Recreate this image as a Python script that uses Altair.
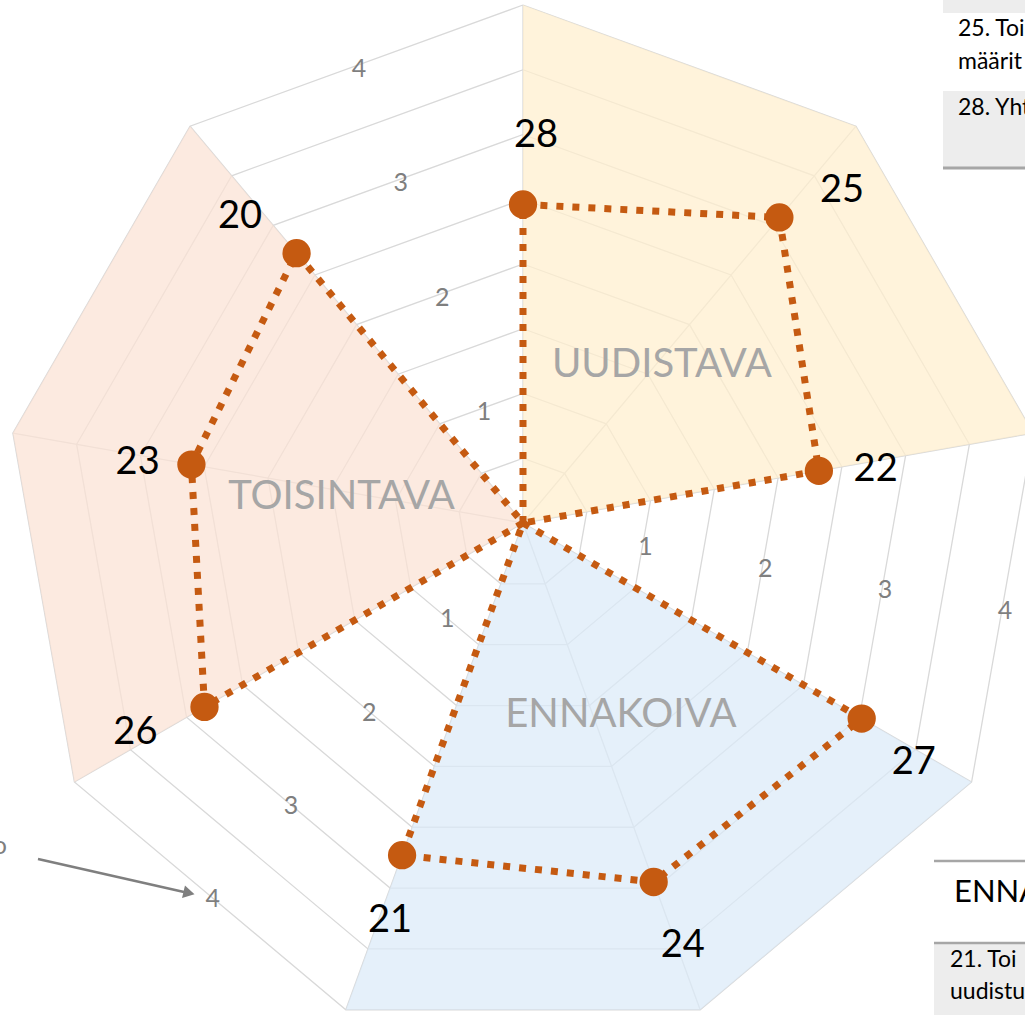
import altair as alt
import pandas as pd

# ---------------- data ----------------
axis_names = ["28", "25", "22", "27", "24", "21", "26", "23", "20"]   # clockwise from top
scores = [2.46, 3.08, 2.32, 3.02, 2.95, 2.73, 2.84, 2.60, 2.72]
group_names = ["UUDISTAVA", "ENNAKOIVA", "TOISINTAVA"]
group_of_axis = [0, 0, 0, 1, 1, 1, 2, 2, 2]
ring_levels = [0.5, 1, 1.5, 2, 2.5, 3, 3.5, 4]
tick_values = [1, 2, 3, 4]
max_value = 4

# ---------------- layout / style ----------------
N = len(axis_names)
CX, CY, UNIT = 523, 523, 129.5           # centre pixel, pixels per unit
W, H = 1025, 1015
xs = alt.Scale(domain=[-CX / UNIT, (W - CX) / UNIT], nice=False, zero=False)
ys = alt.Scale(domain=[(CY - H) / UNIT, CY / UNIT], nice=False, zero=False)
tick_angles = [340, 100, 220]
group_fill = {"UUDISTAVA": "#FFEFCD", "ENNAKOIVA": "#DBEAF8", "TOISINTAVA": "#FBE2D4"}
group_label_polar = {"UUDISTAVA": (41.3, 1.625), "ENNAKOIVA": (153, 1.665), "TOISINTAVA": (278, 1.415)}
# pixel nudges of the value-name labels (screen dx, dy)
label_nudge = [(13, -4), (21, 23), (-7, 10), (-4, 12), (7, 3), (10, 5), (-13, -6), (10, 10), (-15, 13)]
LINE = "#C55A11"
GRID = "#D9D9D9"
FONT = "Lato"


def with_xy(ch, r_expr="datum.r", i_expr="datum.i"):
    return ch.transform_calculate(
        x=f"({r_expr})*sin(({i_expr})*2*PI/{N})",
        y=f"({r_expr})*cos(({i_expr})*2*PI/{N})",
    )


X = alt.X("x:Q", scale=xs, axis=None)
Y = alt.Y("y:Q", scale=ys, axis=None)

# grid rings
ring_rows = []
for lv in ring_levels:
    for k in range(N + 1):
        ring_rows.append({"lv": lv, "k": k, "r": lv, "i": k % N})
rings = with_xy(alt.Chart(pd.DataFrame(ring_rows)).mark_line(color=GRID, strokeWidth=1.3)).encode(
    x=X, y=Y, detail="lv:N", order="k:Q")

spoke_rows = []
for i in range(N):
    spoke_rows += [{"i": i, "k": 0, "r": 0}, {"i": i, "k": 1, "r": max_value}]
spokes = with_xy(alt.Chart(pd.DataFrame(spoke_rows)).mark_line(color=GRID, strokeWidth=1.3)).encode(
    x=X, y=Y, detail="i:N", order="k:Q")

# group sector fills
fills = []
for g, name in enumerate(group_names):
    idx = [i for i in range(N) if group_of_axis[i] == g]
    rows = [{"k": 0, "r": 0, "i": idx[0]}]
    rows += [{"k": n + 1, "r": max_value, "i": i} for n, i in enumerate(idx)]
    rows += [{"k": len(idx) + 1, "r": 0, "i": idx[-1]}]
    fills.append(with_xy(alt.Chart(pd.DataFrame(rows)).mark_line(
        fill=group_fill[name], fillOpacity=0.72, strokeOpacity=0, strokeWidth=0)).encode(
        x=X, y=Y, order="k:Q"))

# axis tick labels
tick_rows = [{"a": a, "t": t} for a in tick_angles for t in tick_values]
ticks = alt.Chart(pd.DataFrame(tick_rows)).transform_calculate(
    x=f"datum.t*cos(PI/{N})*sin(datum.a*PI/180) + 0.02",
    y=f"datum.t*cos(PI/{N})*cos(datum.a*PI/180) - 0.025",
    lab="'' + datum.t",
).mark_text(font=FONT, fontSize=25, color="#7F7F7F", baseline="middle", align="center").encode(
    x=X, y=Y, text="lab:N")

# group labels
gl_rows = [{"name": n, "a": group_label_polar[n][0], "r": group_label_polar[n][1]} for n in group_names]
glabels = alt.Chart(pd.DataFrame(gl_rows)).transform_calculate(
    x="datum.r*sin(datum.a*PI/180)", y="datum.r*cos(datum.a*PI/180)"
).mark_text(font=FONT, fontSize=40, color="#A6A6A6", baseline="middle", align="center").encode(
    x=X, y=Y, text="name:N")

# data lines (each group runs through the centre, as in the radar source)
line_rows = []
for g, name in enumerate(group_names):
    idx = [i for i in range(N) if group_of_axis[i] == g]
    line_rows.append({"g": name, "k": 0, "r": 0, "i": idx[0]})
    for n, i in enumerate(idx):
        line_rows.append({"g": name, "k": n + 1, "r": scores[i], "i": i})
    line_rows.append({"g": name, "k": len(idx) + 1, "r": 0, "i": idx[-1]})
lines = with_xy(alt.Chart(pd.DataFrame(line_rows)).mark_line(
    color=LINE, strokeWidth=7, strokeDash=[7, 9], strokeCap="butt")).encode(
    x=X, y=Y, detail="g:N", order="k:Q")

pt_df = pd.DataFrame({"name": axis_names, "r": scores, "i": list(range(N)),
                      "nx": [n[0] for n in label_nudge], "ny": [n[1] for n in label_nudge]})
points = with_xy(alt.Chart(pt_df).mark_circle(size=800, color=LINE, opacity=1)).encode(x=X, y=Y)
plabels = alt.Chart(pt_df).transform_calculate(
    x=f"(datum.r + 0.5)*sin(datum.i*2*PI/{N}) + datum.nx/{UNIT}",
    y=f"(datum.r + 0.5)*cos(datum.i*2*PI/{N}) - datum.ny/{UNIT}",
).mark_text(font=FONT, fontSize=38, color="black", baseline="middle", align="center").encode(
    x=X, y=Y, text="name:N")

# ---------------- annotation fragments (cropped neighbours) ----------------
one = pd.DataFrame({"a": [0]})


def rect(x1, x2, y1, y2, color):
    return alt.Chart(one).mark_rect(color=color).encode(
        x=alt.value(x1), x2=alt.value(x2), y=alt.value(y1), y2=alt.value(y2))


def hline(x1, x2, y, color, w):
    return alt.Chart(one).mark_rule(color=color, strokeWidth=w).encode(
        x=alt.value(x1), x2=alt.value(x2), y=alt.value(y))


def txt(s, x, y, size, color="black", align="left"):
    return alt.Chart(one).mark_text(text=s, font=FONT, fontSize=size, color=color,
                                    align=align, baseline="middle").encode(
        x=alt.value(x), y=alt.value(y))


annots = [
    rect(943, 1040, -5, 13, "#EDEDED"),
    txt("25. Toi", 958, 29, 23),
    txt("määrit", 958, 62, 23),
    rect(943, 1040, 91, 167, "#EDEDED"),
    hline(943, 1040, 168, "#A6A6A6", 3),
    txt("28. Yht", 958, 108, 23),
    hline(934, 1040, 861, "#A6A6A6", 2.5),
    txt("ENNA", 954, 893, 31),
    rect(934, 1040, 944, 1030, "#EDEDED"),
    hline(934, 1040, 943, "#A6A6A6", 2.5),
    txt("21. Toi", 950, 960, 23),
    txt("uudistu", 950, 992, 23),
    txt("o", 7, 846, 25, "#7F7F7F", "right"),
    alt.Chart(one).mark_rule(color="#7F7F7F", strokeWidth=2.5).encode(
        x=alt.value(38), y=alt.value(859), x2=alt.value(184), y2=alt.value(892)),
    alt.Chart(one).mark_point(shape="triangle-right", angle=13, filled=True, size=170,
                              color="#7F7F7F", opacity=1).encode(x=alt.value(189), y=alt.value(893)),
]

chart = alt.layer(rings, spokes, *fills, ticks, glabels, lines, points, plabels, *annots).properties(
    width=W, height=H, autosize=alt.AutoSizeParams(type="none"), padding=0, background="white"
).configure_view(stroke=None)

chart.save("out.html", embed_options={"renderer": "svg", "actions": False})
